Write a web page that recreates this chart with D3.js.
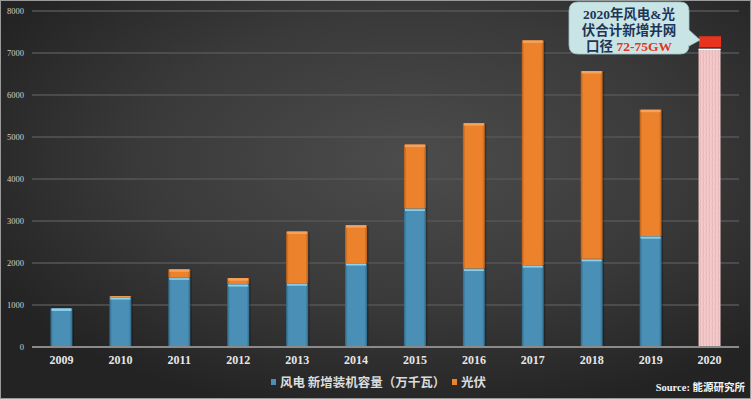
<!DOCTYPE html>
<html>
<head>
<meta charset="utf-8">
<script src="https://cdn.jsdelivr.net/npm/d3@7"></script>
<style>
  html, body { margin: 0; padding: 0; background: #2a2a2a; }
  svg { display: block; }
</style>
</head>
<body>
<div id="chart"></div>
<script>
// data (万千瓦)
const years = ["2009", "2010", "2011", "2012", "2013", "2014", "2015", "2016", "2017", "2018", "2019", "2020"];
const wind = [920, 1190, 1660, 1500, 1520, 2000, 3300, 1870, 1950, 2100, 2640, 0];
const solar = [0, 20, 190, 140, 1230, 900, 1520, 3460, 5350, 4470, 3010, 0];
const target2020Low = 7100;
const target2020High = 7400;
const yTicks = [0, 1000, 2000, 3000, 4000, 5000, 6000, 7000, 8000];

const width = 751;
const height = 399;
const margin = { top: 11, right: 12, bottom: 52, left: 32 };

const svg = d3
  .select("#chart")
  .append("svg")
  .attr("width", width)
  .attr("height", height);

const defs = svg.append("defs");

// background glow
const bg = defs
  .append("radialGradient")
  .attr("id", "bg")
  .attr("cx", "55%")
  .attr("cy", "40%")
  .attr("r", "65%");
bg.append("stop").attr("offset", "0%").attr("stop-color", "#4c4c4d");
bg.append("stop").attr("offset", "55%").attr("stop-color", "#3a3a3b");
bg.append("stop").attr("offset", "100%").attr("stop-color", "#232324");

// bar gradients
function barGradient(id, edge, mid) {
  const g = defs.append("linearGradient").attr("id", id).attr("x1", "0").attr("x2", "1");
  g.append("stop").attr("offset", "0%").attr("stop-color", edge);
  g.append("stop").attr("offset", "12%").attr("stop-color", mid);
  g.append("stop").attr("offset", "88%").attr("stop-color", mid);
  g.append("stop").attr("offset", "100%").attr("stop-color", edge);
}
barGradient("blueGrad", "#2f6a8a", "#4a8fb5");
barGradient("orangeGrad", "#b85e18", "#ec832c");

// faint vertical hatch for the 2020 estimate
const pat = defs
  .append("pattern")
  .attr("id", "hatch")
  .attr("width", 3)
  .attr("height", 6)
  .attr("patternUnits", "userSpaceOnUse");
pat.append("rect").attr("width", 3).attr("height", 6).attr("fill", "#f3caca");
pat.append("path").attr("d", "M1,0 L1.6,3 L1,6").attr("stroke", "#e0a8aa").attr("stroke-width", 0.6).attr("fill", "none");

svg.append("rect").attr("width", width).attr("height", height).attr("fill", "url(#bg)");
svg
  .append("rect")
  .attr("x", 0.5)
  .attr("y", 0.5)
  .attr("width", width - 1)
  .attr("height", height - 1)
  .attr("fill", "none")
  .attr("stroke", "#9a9a9a")
  .attr("stroke-width", 1);

const x = d3
  .scaleBand()
  .domain(years)
  .range([margin.left, width - margin.right])
  .paddingInner(0.627)
  .paddingOuter(0.3135);

const y = d3
  .scaleLinear()
  .domain([0, 8000])
  .range([height - margin.bottom, margin.top]);

// gridlines
svg
  .append("g")
  .selectAll("line")
  .data(yTicks.filter((d) => d > 0))
  .enter()
  .append("line")
  .attr("x1", margin.left)
  .attr("x2", width - margin.right)
  .attr("y1", (d) => y(d))
  .attr("y2", (d) => y(d))
  .attr("stroke", "#565657")
  .attr("stroke-width", 1.5);

// y axis labels
const yAxis = svg
  .append("g")
  .attr("transform", `translate(${margin.left},0)`)
  .call(d3.axisLeft(y).tickValues(yTicks).tickSize(0).tickPadding(8).tickFormat(d3.format("d")));
yAxis.select(".domain").remove();
yAxis
  .selectAll("text")
  .attr("fill", "#d0d0d0")
  .style("font-family", "'Liberation Serif', 'DejaVu Serif', serif")
  .style("font-size", "8.5px");

const stacked = years.map((yr, i) => ({ year: yr, wind: wind[i], solar: solar[i] }));

const bars = svg.append("g");

function drawBar(g, xPos, y0, y1, fill, top) {
  const w = x.bandwidth();
  const h = y(y0) - y(y1);
  if (h <= 0) return;
  // soft shadow
  g.append("rect")
    .attr("x", xPos + 1.5)
    .attr("y", y(y1) + 1)
    .attr("width", w)
    .attr("height", h)
    .attr("fill", "#000")
    .attr("opacity", 0.25);
  g.append("rect")
    .attr("x", xPos)
    .attr("y", y(y1))
    .attr("width", w)
    .attr("height", h)
    .attr("fill", fill);
  g.append("rect")
    .attr("x", xPos + 1)
    .attr("y", y(y1))
    .attr("width", w - 2)
    .attr("height", Math.min(2.5, h))
    .attr("fill", top);
}

stacked.forEach((d) => {
  const xPos = x(d.year);
  drawBar(bars, xPos, 0, d.wind, "url(#blueGrad)", "#8fd3ee");
  drawBar(bars, xPos, d.wind, d.wind + d.solar, "url(#orangeGrad)", "#f6a25c");
});

// 2020 estimate
const x20 = x("2020");
bars
  .append("rect")
  .attr("x", x20)
  .attr("y", y(target2020Low))
  .attr("width", x.bandwidth())
  .attr("height", y(0) - y(target2020Low))
  .attr("fill", "url(#hatch)");
bars
  .append("rect")
  .attr("x", x20)
  .attr("y", y(target2020Low))
  .attr("width", x.bandwidth())
  .attr("height", 1.2)
  .attr("fill", "#ffffff");
bars
  .append("rect")
  .attr("x", x20 + 0.5)
  .attr("y", y(target2020High))
  .attr("width", x.bandwidth())
  .attr("height", y(target2020Low) - y(target2020High) - 1.5)
  .attr("fill", "#e8341f");

// baseline
svg
  .append("line")
  .attr("x1", margin.left)
  .attr("x2", width - margin.right)
  .attr("y1", y(0))
  .attr("y2", y(0))
  .attr("stroke", "#8a8a8a")
  .attr("stroke-width", 2);

// x axis labels
const xAxis = svg
  .append("g")
  .attr("transform", `translate(0,${y(0)})`)
  .call(d3.axisBottom(x).tickSize(0).tickPadding(8));
xAxis.select(".domain").remove();
xAxis
  .selectAll("text")
  .attr("fill", "#e6e6e6")
  .style("font-family", "'Liberation Serif', 'DejaVu Serif', serif")
  .style("font-weight", "bold")
  .style("font-size", "12px");

// legend
const legendItems = [
  { label: "风电 新增装机容量（万千瓦）", color: "#4a8fb5", x: 271 },
  { label: "光伏", color: "#ec832c", x: 452 },
];
const legend = svg.append("g");
legendItems.forEach((d) => {
  legend
    .append("rect")
    .attr("x", d.x)
    .attr("y", 379)
    .attr("width", 5)
    .attr("height", 6)
    .attr("fill", d.color);
  legend
    .append("text")
    .attr("x", d.x + 9)
    .attr("y", 387)
    .text(d.label)
    .attr("fill", "#dcdcdc")
    .style("font-family", "'Noto Sans CJK SC', sans-serif")
    .style("font-weight", "bold")
    .style("font-size", "12.5px");
});

svg
  .append("text")
  .attr("x", 745)
  .attr("y", 391)
  .attr("text-anchor", "end")
  .attr("fill", "#f2f2f2")
  .style("font-family", "'Liberation Serif', 'Noto Sans CJK SC', serif")
  .style("font-weight", "bold")
  .style("font-size", "10.5px")
  .text("Source: 能源研究所");

// callout bubble
const cx0 = 569, cx1 = 689, cy0 = 2, cy1 = 54, r = 9;
const bubble = `M${cx0 + r},${cy0} H${cx1 - r} Q${cx1},${cy0} ${cx1},${cy0 + r} V30 L700,40 L${cx1},46 V${cy1 - r} Q${cx1},${cy1} ${cx1 - r},${cy1} H${cx0 + r} Q${cx0},${cy1} ${cx0},${cy1 - r} V${cy0 + r} Q${cx0},${cy0} ${cx0 + r},${cy0} Z`;
svg.append("path").attr("d", bubble).attr("fill", "#c9e4e4").attr("stroke", "#9fc6c8").attr("stroke-width", 0.8);

const calloutFont = "'Liberation Serif', 'Noto Sans CJK SC', serif";
const lines = [
  [{ t: "2020年风电&光", c: "#1d3557" }],
  [{ t: "伏合计新增并网", c: "#1d3557" }],
  [{ t: "口径 ", c: "#1d3557" }, { t: "72-75GW", c: "#e2361f" }],
];
lines.forEach((parts, i) => {
  const tx = svg
    .append("text")
    .attr("x", 629)
    .attr("y", 19 + i * 16)
    .attr("text-anchor", "middle")
    .style("font-family", calloutFont)
    .style("font-weight", "bold")
    .style("font-size", "13.5px");
  parts.forEach((p) => tx.append("tspan").attr("fill", p.c).text(p.t));
});
</script>
</body>
</html>
